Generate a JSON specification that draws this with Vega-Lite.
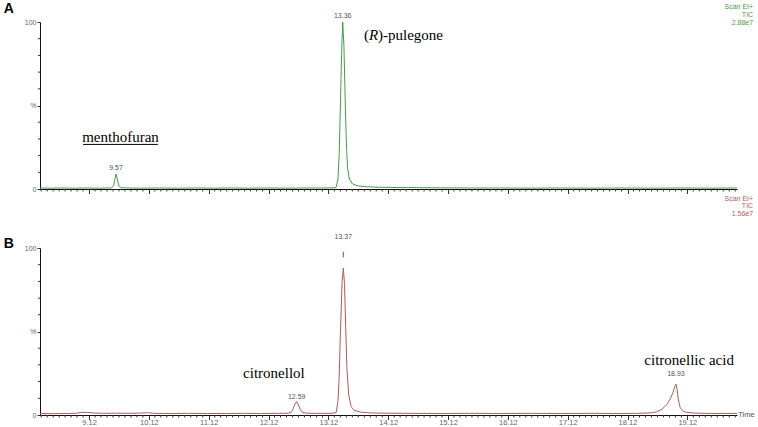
{
  "$schema": "https://vega.github.io/schema/vega-lite/v6.json",
  "padding": {"left": 3, "top": 1, "right": 0, "bottom": 0},
  "bounds": "flush",
  "spacing": 59,
  "config": {
    "view": {"stroke": null},
    "axis": {"grid": false, "title": null, "domainColor": "#111", "domainWidth": 1, "tickColor": "#333", "tickWidth": 1, "labelFont": "Liberation Sans", "labelFontSize": 7.5, "labelColor": "#666", "labelFlush": false},
    "text": {"font": "Liberation Sans"}
  },
  "datasets": {
    "traceA": [
      {"t": 8.30, "v": 0.6}, {"t": 8.5, "v": 0.5}, {"t": 8.7, "v": 0.6}, {"t": 8.9, "v": 0.5}, {"t": 9.1, "v": 0.6}, {"t": 9.3, "v": 0.5}, {"t": 9.45, "v": 0.6}, {"t": 9.50, "v": 0.7}, {"t": 9.53, "v": 2.0}, {"t": 9.55, "v": 5.5}, {"t": 9.57, "v": 9.0}, {"t": 9.59, "v": 6.5}, {"t": 9.61, "v": 3.0}, {"t": 9.63, "v": 1.4}, {"t": 9.66, "v": 0.8}, {"t": 9.75, "v": 0.6}, {"t": 10.0, "v": 0.5}, {"t": 10.3, "v": 0.6}, {"t": 10.6, "v": 0.5}, {"t": 10.9, "v": 0.6}, {"t": 11.2, "v": 0.5}, {"t": 11.5, "v": 0.6}, {"t": 11.8, "v": 0.5}, {"t": 12.1, "v": 0.6}, {"t": 12.4, "v": 0.5}, {"t": 12.7, "v": 0.6}, {"t": 13.0, "v": 0.6}, {"t": 13.2, "v": 0.7}, {"t": 13.25, "v": 1.0}, {"t": 13.28, "v": 6}, {"t": 13.30, "v": 20}, {"t": 13.32, "v": 48}, {"t": 13.34, "v": 80}, {"t": 13.36, "v": 100}, {"t": 13.38, "v": 86}, {"t": 13.40, "v": 55}, {"t": 13.42, "v": 28}, {"t": 13.44, "v": 13}, {"t": 13.47, "v": 6}, {"t": 13.52, "v": 3.2}, {"t": 13.6, "v": 2.0}, {"t": 13.7, "v": 1.5}, {"t": 13.9, "v": 1.1}, {"t": 14.2, "v": 0.9}, {"t": 14.6, "v": 0.8}, {"t": 15.0, "v": 0.7}, {"t": 15.5, "v": 0.6}, {"t": 16.0, "v": 0.6}, {"t": 16.5, "v": 0.5}, {"t": 17.0, "v": 0.6}, {"t": 17.5, "v": 0.5}, {"t": 18.0, "v": 0.6}, {"t": 18.5, "v": 0.5}, {"t": 19.0, "v": 0.6}, {"t": 19.5, "v": 0.5}, {"t": 19.95, "v": 0.6}
    ],
    "traceB": [
      {"t": 8.30, "v": 0.9}, {"t": 8.5, "v": 0.8}, {"t": 8.7, "v": 0.9}, {"t": 8.9, "v": 1.0}, {"t": 9.0, "v": 1.6}, {"t": 9.1, "v": 1.5}, {"t": 9.2, "v": 1.2}, {"t": 9.4, "v": 1.0}, {"t": 9.6, "v": 1.1}, {"t": 9.8, "v": 1.0}, {"t": 10.0, "v": 1.2}, {"t": 10.1, "v": 1.4}, {"t": 10.2, "v": 1.0}, {"t": 10.5, "v": 0.9}, {"t": 10.8, "v": 1.0}, {"t": 11.1, "v": 0.9}, {"t": 11.4, "v": 0.9}, {"t": 11.7, "v": 1.0}, {"t": 12.0, "v": 0.9}, {"t": 12.3, "v": 1.0}, {"t": 12.45, "v": 1.1}, {"t": 12.50, "v": 1.6}, {"t": 12.53, "v": 3.5}, {"t": 12.56, "v": 6.5}, {"t": 12.59, "v": 8.0}, {"t": 12.62, "v": 6.0}, {"t": 12.65, "v": 3.2}, {"t": 12.69, "v": 1.6}, {"t": 12.75, "v": 1.1}, {"t": 12.9, "v": 1.0}, {"t": 13.1, "v": 1.0}, {"t": 13.2, "v": 1.1}, {"t": 13.25, "v": 1.5}, {"t": 13.28, "v": 8}, {"t": 13.30, "v": 22}, {"t": 13.32, "v": 48}, {"t": 13.35, "v": 80}, {"t": 13.37, "v": 88}, {"t": 13.39, "v": 78}, {"t": 13.41, "v": 52}, {"t": 13.43, "v": 28}, {"t": 13.46, "v": 12}, {"t": 13.50, "v": 5}, {"t": 13.55, "v": 2.8}, {"t": 13.65, "v": 1.8}, {"t": 13.8, "v": 1.3}, {"t": 14.0, "v": 1.1}, {"t": 14.5, "v": 1.0}, {"t": 15.0, "v": 0.9}, {"t": 15.5, "v": 1.0}, {"t": 16.0, "v": 0.9}, {"t": 16.5, "v": 1.0}, {"t": 17.0, "v": 0.9}, {"t": 17.5, "v": 1.0}, {"t": 18.0, "v": 0.9}, {"t": 18.3, "v": 1.0}, {"t": 18.5, "v": 1.3}, {"t": 18.6, "v": 1.8}, {"t": 18.7, "v": 3.5}, {"t": 18.78, "v": 6.5}, {"t": 18.84, "v": 10}, {"t": 18.88, "v": 13.5}, {"t": 18.91, "v": 17}, {"t": 18.93, "v": 18.5}, {"t": 18.95, "v": 15}, {"t": 18.97, "v": 9}, {"t": 19.00, "v": 4.5}, {"t": 19.04, "v": 2.5}, {"t": 19.1, "v": 1.6}, {"t": 19.2, "v": 1.2}, {"t": 19.4, "v": 1.0}, {"t": 19.6, "v": 0.9}, {"t": 19.8, "v": 1.0}, {"t": 19.95, "v": 0.9}
    ],
    "xminor": [
      {"t": 8.32}, {"t": 8.42}, {"t": 8.52}, {"t": 8.62}, {"t": 8.72}, {"t": 8.82}, {"t": 8.92}, {"t": 9.02}, {"t": 9.22}, {"t": 9.32}, {"t": 9.42}, {"t": 9.52}, {"t": 9.62}, {"t": 9.72}, {"t": 9.82}, {"t": 9.92}, {"t": 10.02}, {"t": 10.22}, {"t": 10.32}, {"t": 10.42}, {"t": 10.52}, {"t": 10.62}, {"t": 10.72}, {"t": 10.82}, {"t": 10.92}, {"t": 11.02}, {"t": 11.22}, {"t": 11.32}, {"t": 11.42}, {"t": 11.52}, {"t": 11.62}, {"t": 11.72}, {"t": 11.82}, {"t": 11.92}, {"t": 12.02}, {"t": 12.22}, {"t": 12.32}, {"t": 12.42}, {"t": 12.52}, {"t": 12.62}, {"t": 12.72}, {"t": 12.82}, {"t": 12.92}, {"t": 13.02}, {"t": 13.22}, {"t": 13.32}, {"t": 13.42}, {"t": 13.52}, {"t": 13.62}, {"t": 13.72}, {"t": 13.82}, {"t": 13.92}, {"t": 14.02}, {"t": 14.22}, {"t": 14.32}, {"t": 14.42}, {"t": 14.52}, {"t": 14.62}, {"t": 14.72}, {"t": 14.82}, {"t": 14.92}, {"t": 15.02}, {"t": 15.22}, {"t": 15.32}, {"t": 15.42}, {"t": 15.52}, {"t": 15.62}, {"t": 15.72}, {"t": 15.82}, {"t": 15.92}, {"t": 16.02}, {"t": 16.22}, {"t": 16.32}, {"t": 16.42}, {"t": 16.52}, {"t": 16.62}, {"t": 16.72}, {"t": 16.82}, {"t": 16.92}, {"t": 17.02}, {"t": 17.22}, {"t": 17.32}, {"t": 17.42}, {"t": 17.52}, {"t": 17.62}, {"t": 17.72}, {"t": 17.82}, {"t": 17.92}, {"t": 18.02}, {"t": 18.22}, {"t": 18.32}, {"t": 18.42}, {"t": 18.52}, {"t": 18.62}, {"t": 18.72}, {"t": 18.82}, {"t": 18.92}, {"t": 19.02}, {"t": 19.22}, {"t": 19.32}, {"t": 19.42}, {"t": 19.52}, {"t": 19.62}, {"t": 19.72}, {"t": 19.82}, {"t": 19.92}
    ],
    "yminor": [{"v": 10}, {"v": 20}, {"v": 30}, {"v": 40}, {"v": 60}, {"v": 70}, {"v": 80}, {"v": 90}],
    "peaksA": [
      {"t": 9.57, "v": 10.8, "label": "9.57"},
      {"t": 13.36, "v": 101.5, "label": "13.36"}
    ],
    "peaksB": [
      {"t": 12.59, "v": 9.0, "label": "12.59"},
      {"t": 13.37, "v": 104.5, "label": "13.37"},
      {"t": 18.93, "v": 23.0, "label": "18.93"}
    ],
    "markerB": [{"t": 13.37, "v": 94.5, "v2": 97.8}],
    "infoA": [
      {"t": 20.22, "v": 108.8, "label": "Scan EI+"},
      {"t": 20.22, "v": 104.2, "label": "TIC"},
      {"t": 20.22, "v": 99.6, "label": "2.88e7"}
    ],
    "infoB": [
      {"t": 20.22, "v": 129.5, "label": "Scan EI+"},
      {"t": 20.22, "v": 124.9, "label": "TIC"},
      {"t": 20.22, "v": 120.3, "label": "1.56e7"}
    ],
    "tagA": [{"t": 7.78, "v": 107.8, "label": "A"}],
    "tagB": [{"t": 7.78, "v": 102.4, "label": "B"}],
    "notesA": [
      {"t": 9.645, "v": 28.1, "label": "menthofuran"}
    ],
    "underlineA": [{"t": 9.02, "t2": 10.27, "v": 26.7}],
    "puleA1": [{"t": 13.715, "v": 89.0, "label": "("}, {"t": 13.95, "v": 89.0, "label": ")-pulegone"}],
    "puleA2": [{"t": 13.80, "v": 89.0, "label": "R"}],
    "notesB": [
      {"t": 12.21, "v": 22.3, "label": "citronellol"},
      {"t": 19.15, "v": 30.1, "label": "citronellic acid"}
    ],
    "timeB": [{"t": 19.97, "v": 0, "label": "Time"}]
  },
  "vconcat": [
    {
      "width": 697,
      "height": 167,
      "layer": [
        {
          "data": {"name": "traceA"},
          "mark": {"type": "line", "color": "#4a9a4a", "strokeWidth": 1},
          "encoding": {
            "x": {"field": "t", "type": "quantitative", "scale": {"domain": [8.30, 19.95], "nice": false, "zero": false},
              "axis": {"values": [9.12, 10.12, 11.12, 12.12, 13.12, 14.12, 15.12, 16.12, 17.12, 18.12, 19.12], "labels": false, "tickSize": 4.5}},
            "y": {"field": "v", "type": "quantitative", "scale": {"domain": [0, 100], "nice": false},
              "axis": {"values": [0, 50, 100], "labelExpr": "datum.value == 50 ? '%' : datum.label", "tickSize": 3, "labelPadding": 1, "labelFontSize": 7}}
          }
        },
        {
          "data": {"name": "xminor"},
          "mark": {"type": "rule", "color": "#333", "strokeWidth": 1},
          "encoding": {"x": {"field": "t", "type": "quantitative", "scale": {"domain": [8.30, 19.95], "nice": false, "zero": false}}, "y": {"datum": 0, "type": "quantitative", "scale": {"domain": [0, 100], "nice": false}}, "y2": {"datum": -1.5}}
        },
        {
          "data": {"name": "yminor"},
          "mark": {"type": "rule", "color": "#333", "strokeWidth": 1},
          "encoding": {"y": {"field": "v", "type": "quantitative", "scale": {"domain": [0, 100], "nice": false}}, "x": {"datum": 8.30, "type": "quantitative", "scale": {"domain": [8.30, 19.95], "nice": false, "zero": false}}, "x2": {"datum": 8.267}}
        },
        {
          "data": {"name": "tagA"},
          "mark": {"type": "text", "fontSize": 14, "fontWeight": "bold", "color": "#000", "baseline": "middle", "align": "center"},
          "encoding": {"x": {"field": "t", "type": "quantitative", "scale": {"domain": [8.30, 19.95], "nice": false, "zero": false}}, "y": {"field": "v", "type": "quantitative", "scale": {"domain": [0, 100], "nice": false}}, "text": {"field": "label"}}
        },
        {
          "data": {"name": "peaksA"},
          "mark": {"type": "text", "fontSize": 7, "color": "#555", "baseline": "bottom", "align": "center"},
          "encoding": {"x": {"field": "t", "type": "quantitative", "scale": {"domain": [8.30, 19.95], "nice": false, "zero": false}}, "y": {"field": "v", "type": "quantitative", "scale": {"domain": [0, 100], "nice": false}}, "text": {"field": "label"}}
        },
        {
          "data": {"name": "infoA"},
          "mark": {"type": "text", "fontSize": 7, "color": "#4f9a4f", "baseline": "middle", "align": "right"},
          "encoding": {"x": {"field": "t", "type": "quantitative", "scale": {"domain": [8.30, 19.95], "nice": false, "zero": false}}, "y": {"field": "v", "type": "quantitative", "scale": {"domain": [0, 100], "nice": false}}, "text": {"field": "label"}}
        },
        {
          "data": {"name": "notesA"},
          "mark": {"type": "text", "font": "Liberation Serif", "fontSize": 15, "color": "#000", "baseline": "alphabetic", "align": "center"},
          "encoding": {"x": {"field": "t", "type": "quantitative", "scale": {"domain": [8.30, 19.95], "nice": false, "zero": false}}, "y": {"field": "v", "type": "quantitative", "scale": {"domain": [0, 100], "nice": false}}, "text": {"field": "label"}}
        },
        {
          "data": {"name": "underlineA"},
          "mark": {"type": "rule", "color": "#000", "strokeWidth": 1},
          "encoding": {"x": {"field": "t", "type": "quantitative", "scale": {"domain": [8.30, 19.95], "nice": false, "zero": false}}, "x2": {"field": "t2"}, "y": {"field": "v", "type": "quantitative", "scale": {"domain": [0, 100], "nice": false}}}
        },
        {
          "data": {"name": "puleA1"},
          "mark": {"type": "text", "font": "Liberation Serif", "fontSize": 15, "color": "#000", "baseline": "alphabetic", "align": "left"},
          "encoding": {"x": {"field": "t", "type": "quantitative", "scale": {"domain": [8.30, 19.95], "nice": false, "zero": false}}, "y": {"field": "v", "type": "quantitative", "scale": {"domain": [0, 100], "nice": false}}, "text": {"field": "label"}}
        },
        {
          "data": {"name": "puleA2"},
          "mark": {"type": "text", "font": "Liberation Serif", "fontStyle": "italic", "fontSize": 15, "color": "#000", "baseline": "alphabetic", "align": "left"},
          "encoding": {"x": {"field": "t", "type": "quantitative", "scale": {"domain": [8.30, 19.95], "nice": false, "zero": false}}, "y": {"field": "v", "type": "quantitative", "scale": {"domain": [0, 100], "nice": false}}, "text": {"field": "label"}}
        }
      ]
    },
    {
      "width": 697,
      "height": 167,
      "layer": [
        {
          "data": {"name": "traceB"},
          "mark": {"type": "line", "color": "#b35a5a", "strokeWidth": 1},
          "encoding": {
            "x": {"field": "t", "type": "quantitative", "scale": {"domain": [8.30, 19.95], "nice": false, "zero": false},
              "axis": {"values": [9.12, 10.12, 11.12, 12.12, 13.12, 14.12, 15.12, 16.12, 17.12, 18.12, 19.12], "format": ".2f", "labelPadding": -1.5, "labelFontSize": 7.5, "tickSize": 4.5}},
            "y": {"field": "v", "type": "quantitative", "scale": {"domain": [0, 100], "nice": false},
              "axis": {"values": [0, 50, 100], "labelExpr": "datum.value == 50 ? '%' : datum.label", "tickSize": 3, "labelPadding": 1, "labelFontSize": 7}}
          }
        },
        {
          "data": {"name": "xminor"},
          "mark": {"type": "rule", "color": "#333", "strokeWidth": 1},
          "encoding": {"x": {"field": "t", "type": "quantitative", "scale": {"domain": [8.30, 19.95], "nice": false, "zero": false}}, "y": {"datum": 0, "type": "quantitative", "scale": {"domain": [0, 100], "nice": false}}, "y2": {"datum": -1.5}}
        },
        {
          "data": {"name": "yminor"},
          "mark": {"type": "rule", "color": "#333", "strokeWidth": 1},
          "encoding": {"y": {"field": "v", "type": "quantitative", "scale": {"domain": [0, 100], "nice": false}}, "x": {"datum": 8.30, "type": "quantitative", "scale": {"domain": [8.30, 19.95], "nice": false, "zero": false}}, "x2": {"datum": 8.267}}
        },
        {
          "data": {"name": "tagB"},
          "mark": {"type": "text", "fontSize": 14, "fontWeight": "bold", "color": "#000", "baseline": "middle", "align": "center"},
          "encoding": {"x": {"field": "t", "type": "quantitative", "scale": {"domain": [8.30, 19.95], "nice": false, "zero": false}}, "y": {"field": "v", "type": "quantitative", "scale": {"domain": [0, 100], "nice": false}}, "text": {"field": "label"}}
        },
        {
          "data": {"name": "peaksB"},
          "mark": {"type": "text", "fontSize": 7, "color": "#555", "baseline": "bottom", "align": "center"},
          "encoding": {"x": {"field": "t", "type": "quantitative", "scale": {"domain": [8.30, 19.95], "nice": false, "zero": false}}, "y": {"field": "v", "type": "quantitative", "scale": {"domain": [0, 100], "nice": false}}, "text": {"field": "label"}}
        },
        {
          "data": {"name": "markerB"},
          "mark": {"type": "rule", "color": "#b35a5a", "strokeWidth": 1.2},
          "encoding": {"x": {"field": "t", "type": "quantitative", "scale": {"domain": [8.30, 19.95], "nice": false, "zero": false}}, "y": {"field": "v", "type": "quantitative", "scale": {"domain": [0, 100], "nice": false}}, "y2": {"field": "v2"}}
        },
        {
          "data": {"name": "infoB"},
          "mark": {"type": "text", "fontSize": 7, "color": "#b35c5c", "baseline": "middle", "align": "right"},
          "encoding": {"x": {"field": "t", "type": "quantitative", "scale": {"domain": [8.30, 19.95], "nice": false, "zero": false}}, "y": {"field": "v", "type": "quantitative", "scale": {"domain": [0, 100], "nice": false}}, "text": {"field": "label"}}
        },
        {
          "data": {"name": "notesB"},
          "mark": {"type": "text", "font": "Liberation Serif", "fontSize": 15, "color": "#000", "baseline": "alphabetic", "align": "center"},
          "encoding": {"x": {"field": "t", "type": "quantitative", "scale": {"domain": [8.30, 19.95], "nice": false, "zero": false}}, "y": {"field": "v", "type": "quantitative", "scale": {"domain": [0, 100], "nice": false}}, "text": {"field": "label"}}
        },
        {
          "data": {"name": "timeB"},
          "mark": {"type": "text", "fontSize": 7.5, "color": "#555", "baseline": "middle", "align": "left"},
          "encoding": {"x": {"field": "t", "type": "quantitative", "scale": {"domain": [8.30, 19.95], "nice": false, "zero": false}}, "y": {"field": "v", "type": "quantitative", "scale": {"domain": [0, 100], "nice": false}}, "text": {"field": "label"}}
        }
      ]
    }
  ]
}
